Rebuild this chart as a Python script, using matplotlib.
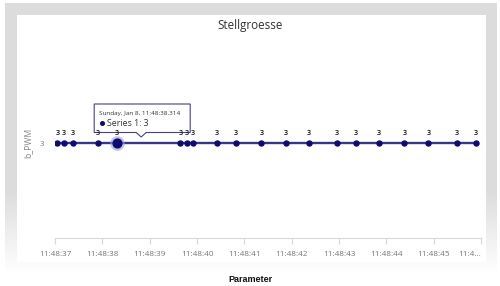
import numpy as np
import pandas as pd
import matplotlib
matplotlib.use('Agg')
import matplotlib.pyplot as plt
import matplotlib.dates as mdates
from matplotlib.patches import Polygon
from matplotlib.ticker import FuncFormatter

plt.rcParams['font.family'] = ['Open Sans', 'DejaVu Sans']

# Messwerte (Zeitstempel und Wert)
zeiten = ['11:48:37.050', '11:48:37.190', '11:48:37.380', '11:48:37.900', '11:48:38.314',
          '11:48:39.650', '11:48:39.780', '11:48:39.920', '11:48:40.420', '11:48:40.830',
          '11:48:41.360', '11:48:41.870', '11:48:42.360', '11:48:42.950', '11:48:43.360',
          '11:48:43.850', '11:48:44.380', '11:48:44.890', '11:48:45.490', '11:48:45.890']
werte = [3] * 20
markiert = 4  # Punkt mit Tooltip
tooltip_datum = 'Sunday, Jan 8, 11:48:38.314'
serie = 'Series 1'
titel = 'Stellgroesse'
y_titel = 'b_PWM'
x_titel = 'Parameter'
x_start = '11:48:37'
x_ende = '11:48:46'

linie = '#3b3585'
punkt = '#0e0c6e'

t = pd.to_datetime(['2017-01-08 ' + z for z in zeiten])
t_start = pd.to_datetime('2017-01-08 ' + x_start)
t_ende = pd.to_datetime('2017-01-08 ' + x_ende)

W, H = 500, 286
fig = plt.figure(figsize=(W / 100, H / 100), dpi=100)
fig.patch.set_facecolor('white')

# Hintergrund mit grauem Rahmen (Pixelkoordinaten)
bg = fig.add_axes([0, 0, 1, 1])
bg.set_xlim(0, W)
bg.set_ylim(H, 0)
bg.axis('off')
img = np.ones((H, W, 3))
yy, xx = np.mgrid[0:H, 0:W]
rahmen = (xx >= 5) & (xx < 497) & (yy >= 3) & (yy < 272)
panel = (xx >= 17) & (xx < 486) & (yy >= 15) & (yy < 262)
fade = np.clip((272 - yy) / 80.0, 0, 1)
grau = 0.865
for c in range(3):
    ch = img[:, :, c]
    ch[rahmen & ~panel] = 1 - (1 - grau) * fade[rahmen & ~panel]
bg.imshow(img, extent=(0, W, H, 0), interpolation='bilinear', zorder=0)

# Diagramm
ax = fig.add_axes([55 / W, 1 - 238 / H, 426 / W, 190 / H])
ax.patch.set_alpha(0)
x = mdates.date2num(t)
ax.plot(x, werte, color=linie, lw=1.7, zorder=2)
ax.scatter(x, werte, s=13, color=punkt, zorder=3)
ax.scatter(x[markiert], werte[markiert], s=110, color='#9b9be0', alpha=0.6, zorder=2.5, lw=0)
ax.scatter(x[markiert], werte[markiert], s=40, color=punkt, zorder=3.5)
for xi, yi in zip(x, werte):
    ax.annotate(str(yi), (xi, yi), xytext=(0, 4), textcoords='offset points',
                ha='center', va='bottom', fontsize=5.2, color='#111111', fontweight='semibold')

ax.set_xlim(mdates.date2num(t_start), mdates.date2num(t_ende))
ax.set_ylim(2, 4)
ax.set_yticks([3])
ax.set_yticklabels(['3'])
ax.xaxis.set_major_locator(mdates.SecondLocator())


def fmt(v, pos):
    s = mdates.num2date(v).strftime('%H:%M:%S')
    if abs(v - mdates.date2num(t_ende)) < 1e-7:
        return s[:4] + '...'
    return s


ax.xaxis.set_major_formatter(FuncFormatter(fmt))
for s in ['top', 'right', 'left']:
    ax.spines[s].set_visible(False)
ax.spines['bottom'].set_color('#d8d8d8')
ax.spines['bottom'].set_linewidth(0.8)
ax.tick_params(axis='x', colors='#d8d8d8', labelcolor='#777777', labelsize=5.9, length=4, pad=5)
ax.tick_params(axis='y', length=0, labelcolor='#777777', labelsize=5.5, pad=8)
ax.set_ylabel(y_titel, fontsize=6.2, color='#888888', labelpad=5)

fig.canvas.draw()
letzte = ax.get_xticklabels()[-1]
letzte.set_ha('right')
letzte.set_x(letzte.get_position()[0])

# Titel und Achsentitel
fig.text(0.5, 1 - 25 / H, titel, ha='center', va='center', fontsize=8.4, color='#333333')
fig.text(0.5, 1 - 279 / H, x_titel, ha='center', va='center', fontsize=6.5,
         fontweight='bold', color='#111111', family=['Liberation Sans', 'DejaVu Sans'])

# Tooltip am markierten Punkt
px, py = ax.transData.transform((x[markiert], werte[markiert]))
py = H - py
box = [(px - 23, py - 39), (px + 73, py - 39), (px + 73, py - 10.5),
       (px + 29, py - 10.5), (px + 24, py - 6), (px + 19, py - 10.5), (px - 23, py - 10.5)]
bg.add_patch(Polygon(box, closed=True, facecolor='white', edgecolor='#3b3585', lw=0.8,
                     alpha=0.95, zorder=5))
bg.text(px - 18, py - 29.5, tooltip_datum, fontsize=4.6, color='#333333', va='center', zorder=6)
bg.plot(px - 15, py - 20, 'o', ms=2.6, color=punkt, zorder=6)
bg.text(px - 10.5, py - 20, serie + ': ' + str(werte[markiert]), fontsize=6.3,
        color='#333333', va='center', zorder=6)

fig.savefig('out.png', dpi=100, facecolor='white')
